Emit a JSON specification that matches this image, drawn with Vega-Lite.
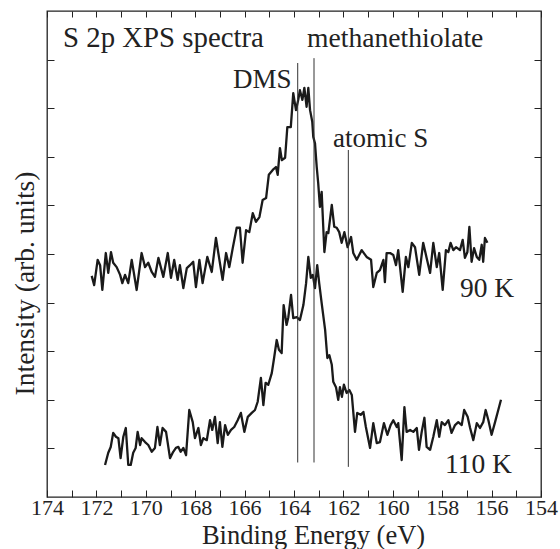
{
  "$schema": "https://vega.github.io/schema/vega-lite/v6.json",
  "width": 494,
  "height": 486,
  "autosize": "none",
  "padding": {"left": 47, "top": 11, "right": 19, "bottom": 52},
  "background": "white",
  "config": {
    "view": {"stroke": "#222", "strokeWidth": 1.3},
    "axis": {"domain": false, "grid": false, "tickColor": "#222", "tickWidth": 1, "labelFont": "Liberation Serif", "titleFont": "Liberation Serif", "labelColor": "#222", "titleColor": "#222", "titleFontWeight": "normal"},
    "text": {"font": "Liberation Serif", "color": "#222"}
  },
  "datasets": {
    "spectra": [
      {"s":"90 K","E":172.19,"I":4.55},{"s":"90 K","E":172.09,"I":4.36},{"s":"90 K","E":171.95,"I":4.88},{"s":"90 K","E":171.85,"I":4.77},{"s":"90 K","E":171.76,"I":4.26},{"s":"90 K","E":171.62,"I":5.02},{"s":"90 K","E":171.52,"I":4.61},{"s":"90 K","E":171.41,"I":5.04},{"s":"90 K","E":171.32,"I":4.82},{"s":"90 K","E":171.18,"I":4.73},{"s":"90 K","E":171.04,"I":4.57},{"s":"90 K","E":170.95,"I":4.40},{"s":"90 K","E":170.84,"I":4.57},{"s":"90 K","E":170.71,"I":4.40},{"s":"90 K","E":170.57,"I":4.88},{"s":"90 K","E":170.37,"I":4.26},{"s":"90 K","E":170.17,"I":5.02},{"s":"90 K","E":170.03,"I":4.73},{"s":"90 K","E":169.90,"I":4.82},{"s":"90 K","E":169.76,"I":4.63},{"s":"90 K","E":169.63,"I":4.53},{"s":"90 K","E":169.49,"I":4.92},{"s":"90 K","E":169.29,"I":4.53},{"s":"90 K","E":169.11,"I":5.02},{"s":"90 K","E":168.98,"I":4.51},{"s":"90 K","E":168.85,"I":4.88},{"s":"90 K","E":168.71,"I":4.47},{"s":"90 K","E":168.62,"I":4.77},{"s":"90 K","E":168.48,"I":4.30},{"s":"90 K","E":168.34,"I":4.71},{"s":"90 K","E":168.21,"I":4.77},{"s":"90 K","E":168.08,"I":4.84},{"s":"90 K","E":167.97,"I":4.32},{"s":"90 K","E":167.83,"I":4.88},{"s":"90 K","E":167.70,"I":4.40},{"s":"90 K","E":167.51,"I":4.94},{"s":"90 K","E":167.33,"I":4.63},{"s":"90 K","E":167.16,"I":5.33},{"s":"90 K","E":167.02,"I":4.88},{"s":"90 K","E":166.89,"I":4.47},{"s":"90 K","E":166.75,"I":5.02},{"s":"90 K","E":166.62,"I":4.73},{"s":"90 K","E":166.48,"I":5.12},{"s":"90 K","E":166.32,"I":5.54},{"s":"90 K","E":166.19,"I":5.54},{"s":"90 K","E":166.08,"I":4.82},{"s":"90 K","E":165.94,"I":5.49},{"s":"90 K","E":165.81,"I":5.45},{"s":"90 K","E":165.67,"I":5.84},{"s":"90 K","E":165.54,"I":5.66},{"s":"90 K","E":165.40,"I":5.76},{"s":"90 K","E":165.27,"I":6.11},{"s":"90 K","E":165.13,"I":6.15},{"s":"90 K","E":165.02,"I":6.63},{"s":"90 K","E":164.86,"I":6.73},{"s":"90 K","E":164.73,"I":6.79},{"s":"90 K","E":164.66,"I":6.63},{"s":"90 K","E":164.57,"I":7.18},{"s":"90 K","E":164.49,"I":6.93},{"s":"90 K","E":164.36,"I":6.98},{"s":"90 K","E":164.27,"I":7.61},{"s":"90 K","E":164.13,"I":7.61},{"s":"90 K","E":164.03,"I":8.31},{"s":"90 K","E":163.92,"I":7.96},{"s":"90 K","E":163.83,"I":8.17},{"s":"90 K","E":163.76,"I":8.37},{"s":"90 K","E":163.66,"I":8.17},{"s":"90 K","E":163.58,"I":8.42},{"s":"90 K","E":163.49,"I":8.03},{"s":"90 K","E":163.42,"I":8.42},{"s":"90 K","E":163.35,"I":7.96},{"s":"90 K","E":163.26,"I":7.72},{"s":"90 K","E":163.22,"I":7.41},{"s":"90 K","E":163.15,"I":7.28},{"s":"90 K","E":163.08,"I":6.79},{"s":"90 K","E":163.02,"I":6.46},{"s":"90 K","E":162.95,"I":5.97},{"s":"90 K","E":162.88,"I":6.28},{"s":"90 K","E":162.77,"I":5.04},{"s":"90 K","E":162.68,"I":5.45},{"s":"90 K","E":162.61,"I":5.43},{"s":"90 K","E":162.47,"I":6.01},{"s":"90 K","E":162.37,"I":5.56},{"s":"90 K","E":162.27,"I":5.54},{"s":"90 K","E":162.17,"I":5.45},{"s":"90 K","E":162.07,"I":5.23},{"s":"90 K","E":161.96,"I":5.45},{"s":"90 K","E":161.83,"I":5.14},{"s":"90 K","E":161.69,"I":5.35},{"s":"90 K","E":161.60,"I":5.02},{"s":"90 K","E":161.46,"I":4.88},{"s":"90 K","E":161.26,"I":5.08},{"s":"90 K","E":161.06,"I":4.94},{"s":"90 K","E":160.88,"I":4.88},{"s":"90 K","E":160.79,"I":4.32},{"s":"90 K","E":160.65,"I":4.61},{"s":"90 K","E":160.52,"I":4.67},{"s":"90 K","E":160.38,"I":4.88},{"s":"90 K","E":160.32,"I":4.42},{"s":"90 K","E":160.25,"I":5.02},{"s":"90 K","E":160.11,"I":5.02},{"s":"90 K","E":159.98,"I":4.98},{"s":"90 K","E":159.87,"I":4.77},{"s":"90 K","E":159.78,"I":5.08},{"s":"90 K","E":159.60,"I":4.22},{"s":"90 K","E":159.47,"I":4.94},{"s":"90 K","E":159.37,"I":4.73},{"s":"90 K","E":159.23,"I":5.23},{"s":"90 K","E":159.10,"I":5.14},{"s":"90 K","E":158.93,"I":4.57},{"s":"90 K","E":158.77,"I":5.23},{"s":"90 K","E":158.63,"I":4.92},{"s":"90 K","E":158.49,"I":4.61},{"s":"90 K","E":158.36,"I":5.23},{"s":"90 K","E":158.22,"I":4.73},{"s":"90 K","E":158.12,"I":5.02},{"s":"90 K","E":157.98,"I":4.26},{"s":"90 K","E":157.85,"I":5.08},{"s":"90 K","E":157.75,"I":5.04},{"s":"90 K","E":157.66,"I":5.23},{"s":"90 K","E":157.55,"I":5.08},{"s":"90 K","E":157.44,"I":5.14},{"s":"90 K","E":157.28,"I":5.08},{"s":"90 K","E":157.17,"I":5.29},{"s":"90 K","E":157.08,"I":4.92},{"s":"90 K","E":156.98,"I":5.04},{"s":"90 K","E":156.90,"I":5.56},{"s":"90 K","E":156.81,"I":4.84},{"s":"90 K","E":156.71,"I":5.12},{"s":"90 K","E":156.60,"I":4.94},{"s":"90 K","E":156.50,"I":4.88},{"s":"90 K","E":156.40,"I":5.19},{"s":"90 K","E":156.34,"I":4.84},{"s":"90 K","E":156.27,"I":5.33},{"s":"90 K","E":156.17,"I":5.23},
      {"s":"110 K","E":171.65,"I":0.66},{"s":"110 K","E":171.52,"I":0.91},{"s":"110 K","E":171.42,"I":1.03},{"s":"110 K","E":171.32,"I":1.32},{"s":"110 K","E":171.21,"I":1.24},{"s":"110 K","E":171.11,"I":1.21},{"s":"110 K","E":171.02,"I":0.80},{"s":"110 K","E":170.91,"I":1.24},{"s":"110 K","E":170.81,"I":1.42},{"s":"110 K","E":170.71,"I":0.66},{"s":"110 K","E":170.61,"I":0.66},{"s":"110 K","E":170.51,"I":0.91},{"s":"110 K","E":170.41,"I":1.01},{"s":"110 K","E":170.33,"I":1.34},{"s":"110 K","E":170.23,"I":1.07},{"s":"110 K","E":170.17,"I":1.21},{"s":"110 K","E":170.03,"I":1.13},{"s":"110 K","E":169.90,"I":1.07},{"s":"110 K","E":169.76,"I":0.93},{"s":"110 K","E":169.63,"I":1.01},{"s":"110 K","E":169.53,"I":1.44},{"s":"110 K","E":169.43,"I":1.07},{"s":"110 K","E":169.32,"I":1.42},{"s":"110 K","E":169.18,"I":1.34},{"s":"110 K","E":169.02,"I":0.80},{"s":"110 K","E":168.89,"I":0.93},{"s":"110 K","E":168.78,"I":1.01},{"s":"110 K","E":168.68,"I":1.03},{"s":"110 K","E":168.59,"I":0.93},{"s":"110 K","E":168.48,"I":1.01},{"s":"110 K","E":168.37,"I":0.86},{"s":"110 K","E":168.24,"I":1.79},{"s":"110 K","E":168.10,"I":1.54},{"s":"110 K","E":168.01,"I":1.21},{"s":"110 K","E":167.87,"I":1.42},{"s":"110 K","E":167.77,"I":1.07},{"s":"110 K","E":167.67,"I":1.21},{"s":"110 K","E":167.53,"I":1.17},{"s":"110 K","E":167.40,"I":1.58},{"s":"110 K","E":167.31,"I":1.38},{"s":"110 K","E":167.20,"I":1.65},{"s":"110 K","E":167.09,"I":1.11},{"s":"110 K","E":167.00,"I":1.54},{"s":"110 K","E":166.90,"I":1.03},{"s":"110 K","E":166.79,"I":1.48},{"s":"110 K","E":166.68,"I":1.28},{"s":"110 K","E":166.55,"I":1.38},{"s":"110 K","E":166.42,"I":1.44},{"s":"110 K","E":166.28,"I":1.58},{"s":"110 K","E":166.15,"I":1.73},{"s":"110 K","E":166.01,"I":1.34},{"s":"110 K","E":165.87,"I":1.65},{"s":"110 K","E":165.71,"I":1.73},{"s":"110 K","E":165.58,"I":1.79},{"s":"110 K","E":165.47,"I":1.96},{"s":"110 K","E":165.34,"I":2.45},{"s":"110 K","E":165.24,"I":1.89},{"s":"110 K","E":165.15,"I":2.35},{"s":"110 K","E":165.04,"I":2.31},{"s":"110 K","E":164.90,"I":2.55},{"s":"110 K","E":164.80,"I":2.88},{"s":"110 K","E":164.70,"I":3.23},{"s":"110 K","E":164.61,"I":3.03},{"s":"110 K","E":164.50,"I":2.96},{"s":"110 K","E":164.42,"I":3.95},{"s":"110 K","E":164.30,"I":3.54},{"s":"110 K","E":164.23,"I":3.70},{"s":"110 K","E":164.12,"I":4.16},{"s":"110 K","E":164.03,"I":3.68},{"s":"110 K","E":163.89,"I":3.70},{"s":"110 K","E":163.76,"I":3.64},{"s":"110 K","E":163.62,"I":3.95},{"s":"110 K","E":163.51,"I":4.40},{"s":"110 K","E":163.42,"I":4.94},{"s":"110 K","E":163.32,"I":4.51},{"s":"110 K","E":163.24,"I":4.57},{"s":"110 K","E":163.15,"I":4.30},{"s":"110 K","E":163.06,"I":4.77},{"s":"110 K","E":162.98,"I":4.40},{"s":"110 K","E":162.88,"I":3.99},{"s":"110 K","E":162.74,"I":3.44},{"s":"110 K","E":162.65,"I":2.86},{"s":"110 K","E":162.57,"I":2.92},{"s":"110 K","E":162.47,"I":2.72},{"s":"110 K","E":162.41,"I":2.37},{"s":"110 K","E":162.30,"I":2.26},{"s":"110 K","E":162.21,"I":2.00},{"s":"110 K","E":162.14,"I":2.26},{"s":"110 K","E":162.06,"I":2.06},{"s":"110 K","E":161.98,"I":2.31},{"s":"110 K","E":161.87,"I":2.14},{"s":"110 K","E":161.76,"I":2.20},{"s":"110 K","E":161.66,"I":2.10},{"s":"110 K","E":161.53,"I":1.34},{"s":"110 K","E":161.44,"I":1.73},{"s":"110 K","E":161.30,"I":1.69},{"s":"110 K","E":161.19,"I":1.75},{"s":"110 K","E":161.09,"I":1.44},{"s":"110 K","E":160.92,"I":1.01},{"s":"110 K","E":160.79,"I":1.52},{"s":"110 K","E":160.65,"I":1.11},{"s":"110 K","E":160.52,"I":1.13},{"s":"110 K","E":160.36,"I":1.52},{"s":"110 K","E":160.22,"I":1.28},{"s":"110 K","E":160.09,"I":1.48},{"s":"110 K","E":159.98,"I":1.58},{"s":"110 K","E":159.84,"I":1.44},{"s":"110 K","E":159.78,"I":1.52},{"s":"110 K","E":159.64,"I":0.76},{"s":"110 K","E":159.53,"I":1.85},{"s":"110 K","E":159.44,"I":1.34},{"s":"110 K","E":159.30,"I":1.38},{"s":"110 K","E":159.17,"I":1.34},{"s":"110 K","E":159.03,"I":1.42},{"s":"110 K","E":158.94,"I":0.97},{"s":"110 K","E":158.83,"I":1.34},{"s":"110 K","E":158.72,"I":1.63},{"s":"110 K","E":158.63,"I":1.03},{"s":"110 K","E":158.49,"I":0.97},{"s":"110 K","E":158.36,"I":1.24},{"s":"110 K","E":158.22,"I":1.58},{"s":"110 K","E":158.12,"I":1.24},{"s":"110 K","E":158.02,"I":1.54},{"s":"110 K","E":157.89,"I":1.48},{"s":"110 K","E":157.75,"I":1.58},{"s":"110 K","E":157.62,"I":1.32},{"s":"110 K","E":157.48,"I":1.48},{"s":"110 K","E":157.35,"I":1.54},{"s":"110 K","E":157.21,"I":1.48},{"s":"110 K","E":157.11,"I":1.79},{"s":"110 K","E":156.97,"I":1.65},{"s":"110 K","E":156.87,"I":1.42},{"s":"110 K","E":156.74,"I":1.17},{"s":"110 K","E":156.60,"I":1.52},{"s":"110 K","E":156.47,"I":1.42},{"s":"110 K","E":156.34,"I":1.54},{"s":"110 K","E":156.24,"I":1.79},{"s":"110 K","E":156.13,"I":1.58},{"s":"110 K","E":156.00,"I":1.28},{"s":"110 K","E":155.86,"I":1.54},{"s":"110 K","E":155.73,"I":1.79},{"s":"110 K","E":155.62,"I":2.00}
    ],
    "markers": [
      {"name":"DMS","E":163.85,"y1":0.71,"y2":8.93},
      {"name":"methanethiolate","E":163.19,"y1":0.71,"y2":9.03},
      {"name":"atomic S","E":161.8,"y1":0.62,"y2":7.14}
    ],
    "labels": [
      {"t":"S 2p XPS spectra","E":173.35,"I":9.26,"fs":28.8},
      {"t":"DMS","E":166.47,"I":8.42,"fs":27},
      {"t":"methanethiolate","E":163.47,"I":9.26,"fs":27.6},
      {"t":"atomic S","E":162.42,"I":7.2,"fs":27},
      {"t":"90 K","E":157.28,"I":4.115,"fs":27.5},
      {"t":"110 K","E":157.89,"I":0.49,"fs":27.5}
    ]
  },
  "layer": [
    {
      "data": {"name": "spectra"},
      "mark": {"type": "line", "color": "#1a1a1a", "strokeWidth": 2.3, "strokeJoin": "round"},
      "encoding": {
        "x": {"field": "E", "type": "quantitative",
              "scale": {"domain": [154, 174], "reverse": true, "nice": false, "zero": false},
              "axis": {"orient": "bottom", "title": "Binding Energy (eV)", "values": [154,155,156,157,158,159,160,161,162,163,164,165,166,167,168,169,170,171,172,173,174],
                       "labelExpr": "datum.value % 2 === 0 ? datum.label : ''", "tickSize": -7, "labelPadding": 7, "labelFontSize": 22, "labelFlush": false,
                       "titleFontSize": 26.5, "titleX": 266, "titleY": 46, "titleAlign": "center", "titleBaseline": "alphabetic"}},
        "y": {"field": "I", "type": "quantitative",
              "scale": {"domain": [0, 10], "nice": false, "zero": false},
              "axis": {"orient": "left", "title": "Intensity (arb. units)", "values": [1,2,3,4,5,6,7,8,9], "labels": false, "tickSize": -7,
                       "titleFontSize": 27.5, "titleX": -14, "titleY": 272, "titleAngle": -90, "titleAlign": "center", "titleBaseline": "alphabetic"}},
        "detail": {"field": "s", "type": "nominal"}
      }
    },
    {
      "data": {"name": "markers"},
      "mark": {"type": "rule", "color": "#333", "strokeWidth": 1},
      "encoding": {
        "x": {"field": "E", "type": "quantitative",
              "axis": {"orient": "top", "title": null, "values": [154,155,156,157,158,159,160,161,162,163,164,165,166,167,168,169,170,171,172,173,174], "labels": false, "tickSize": -6}},
        "y": {"field": "y1", "type": "quantitative",
              "axis": {"orient": "right", "title": null, "values": [1,2,3,4,5,6,7,8,9], "labels": false, "tickSize": -7}},
        "y2": {"field": "y2"}
      }
    },
    {
      "data": {"name": "labels"},
      "mark": {"type": "text", "align": "left", "baseline": "alphabetic"},
      "encoding": {
        "x": {"field": "E", "type": "quantitative", "axis": null},
        "y": {"field": "I", "type": "quantitative", "axis": null},
        "text": {"field": "t"},
        "size": {"field": "fs", "type": "quantitative", "scale": null}
      }
    }
  ],
  "resolve": {"axis": {"x": "independent", "y": "independent"}}
}
